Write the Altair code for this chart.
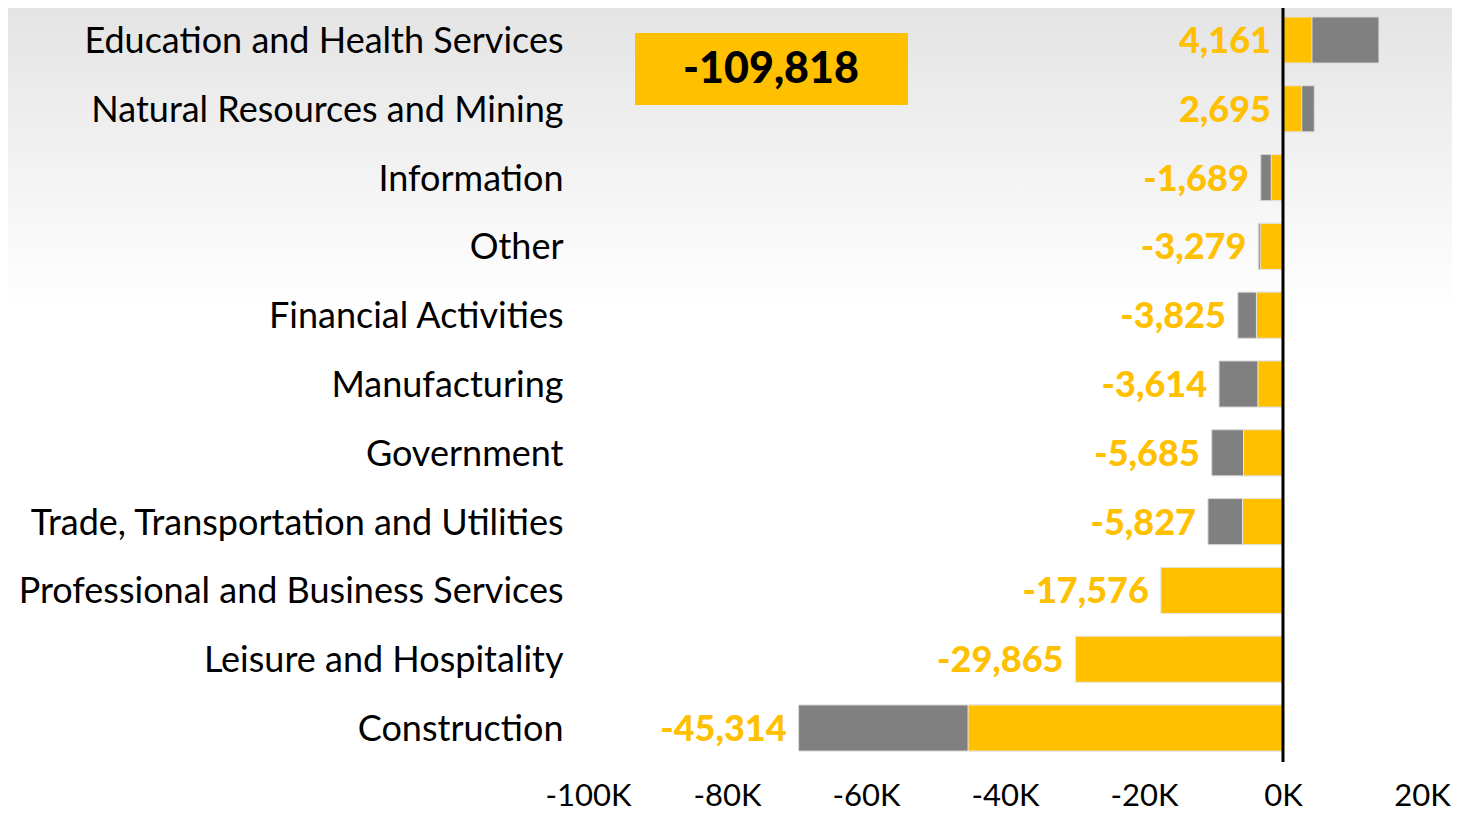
import altair as alt
import pandas as pd

categories = [
    "Education and Health Services",
    "Natural Resources and Mining",
    "Information",
    "Other",
    "Financial Activities",
    "Manufacturing",
    "Government",
    "Trade, Transportation and Utilities",
    "Professional and Business Services",
    "Leisure and Hospitality",
    "Construction",
]
current = [4161, 2695, -1689, -3279, -3825, -3614, -5685, -5827, -17576, -29865, -45314]
previous = [13800, 4500, -3200, -3550, -6500, -9200, -10250, -10800, -11900, -13400, -69700]
tick_values = [-100000, -80000, -60000, -40000, -20000, 0, 20000]

YELLOW = "#FFC000"
GRAY = "#808080"
FONT = "Lato"

df = pd.DataFrame({
    "category": categories,
    "value": current,
    "prior": previous,
    "label": [f"{v:,}" for v in current],
})
total_label = f"{sum(current):,}"

W, H = 834, 752

y_enc = alt.Y(
    "category:N",
    sort=categories,
    title=None,
    scale=alt.Scale(paddingInner=0.33, paddingOuter=0.13),
    axis=alt.Axis(
        labelFont=FONT, labelFontSize=36, labelColor="black", labelPadding=25,
        labelOffset=2, ticks=False, domain=False, grid=False, zindex=1, labelLimit=600,
    ),
)
x_scale = alt.Scale(domain=[-100000, 20000], nice=False)
x_axis = alt.Axis(
    values=tick_values, labelExpr="datum.value / 1000 + 'K'",
    labelFont=FONT, labelFontSize=31, labelColor="black", labelPadding=21,
    ticks=False, domain=False, grid=False, zindex=1, labelFlush=False,
)

bg = alt.Chart(alt.Data(values=[{}])).mark_rect(
    fill=alt.LinearGradient(
        gradient="linear", x1=0, y1=0, x2=0, y2=1,
        stops=[alt.GradientStop(color="#e4e4e4", offset=0),
               alt.GradientStop(color="#ffffff", offset=1)],
    ),
).encode(x=alt.value(-580), x2=alt.value(W + 40), y=alt.value(0), y2=alt.value(300))

base = alt.Chart(df)

gray_bars = base.mark_bar(color=GRAY, stroke="#d9d9d9", strokeWidth=1).encode(
    x=alt.X("prior:Q", scale=x_scale, axis=x_axis, title=None),
    y=y_enc,
)
yellow_bars = base.mark_bar(color=YELLOW, stroke="#e6e6e6", strokeWidth=1).encode(
    x=alt.X("value:Q"),
    y=alt.Y("category:N", sort=categories),
)
labels = base.transform_calculate(
    lx="min(0, datum.value, datum.prior)"
).mark_text(
    align="right", baseline="middle", dx=-12, dy=2, font=FONT, fontSize=36,
    fontWeight=900, color=YELLOW,
).encode(
    x=alt.X("lx:Q"),
    y=alt.Y("category:N", sort=categories),
    text="label:N",
)
zero_rule = alt.Chart(alt.Data(values=[{"z": 0}])).mark_rule(
    color="black", strokeWidth=3
).encode(x=alt.X("z:Q"), y=alt.value(0), y2=alt.value(H + 2))

box = alt.Chart(alt.Data(values=[{}])).mark_rect(color=YELLOW).encode(
    x=alt.value(47), x2=alt.value(320), y=alt.value(25), y2=alt.value(97)
)
box_text = alt.Chart(alt.Data(values=[{"t": total_label}])).mark_text(
    align="center", baseline="middle", font=FONT, fontSize=43,
    fontWeight=900, color="black",
).encode(x=alt.value(183), y=alt.value(62), text="t:N")

chart = alt.layer(
    bg, gray_bars, yellow_bars, labels, zero_rule, box, box_text
).properties(
    width=W, height=H,
    autosize=alt.AutoSizeParams(type="none"),
    padding={"left": 580, "top": 0, "right": 30, "bottom": 58},
    background="white",
).configure_view(strokeWidth=0)

chart.save("out.html", embed_options={"renderer": "svg", "actions": False})
